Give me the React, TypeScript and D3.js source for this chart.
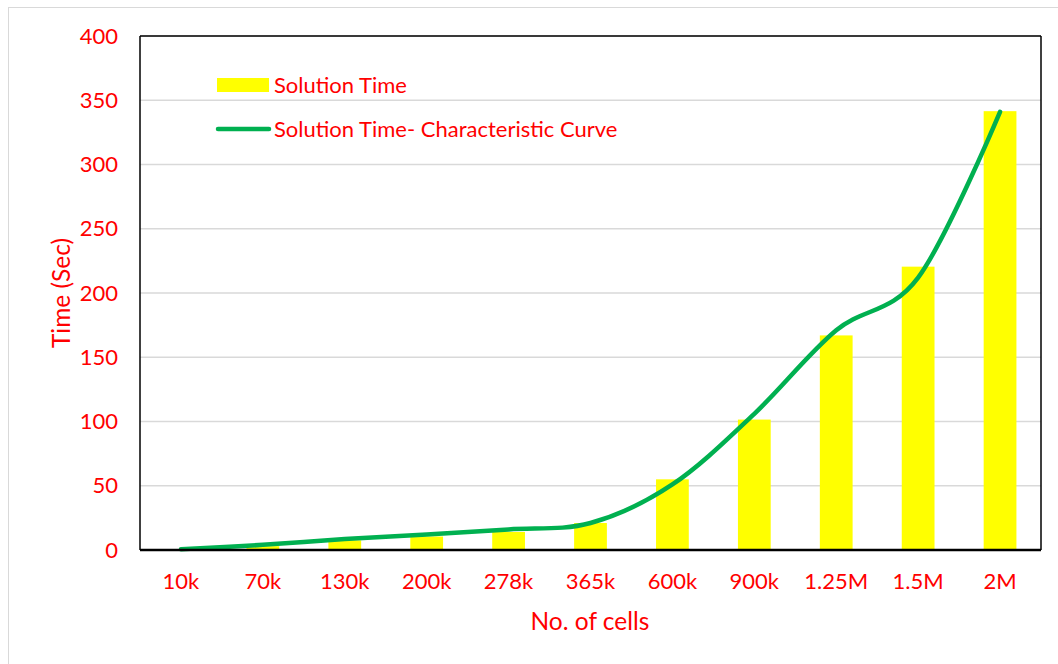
import React from "react";
import * as d3 from "d3";

const categories = ["10k", "70k", "130k", "200k", "278k", "365k", "600k", "900k", "1.25M", "1.5M", "2M"];
const solutionTime = [0.5, 3, 7.5, 10.5, 14, 21, 55, 101.5, 167, 220.5, 341.5];
const curveValues = [0.5, 4, 8.5, 12, 16, 21, 51, 106, 171, 212, 341];
const yTicks = [0, 50, 100, 150, 200, 250, 300, 350, 400];

const W = 1058;
const H = 664;
const M = { left: 140, right: 1041, top: 36, bottom: 550 };
const FONT = "Lato, 'Open Sans', sans-serif";
const RED = "#ff0000";

export default function App() {
  const x = d3.scaleBand<string>().domain(categories).range([M.left, M.right]).paddingInner(0.6).paddingOuter(0.3);
  const xc = d3.scalePoint<string>().domain(categories).range([M.left, M.right]).padding(0.5);
  const y = d3.scaleLinear().domain([0, 400]).range([M.bottom, M.top]);

  const line = d3
    .line<number>()
    .x((_, i) => xc(categories[i]) as number)
    .y((d) => y(d))
    .curve(d3.curveCardinal.tension(0));

  return (
    <svg width={W} height={H} style={{ position: "absolute", left: 0, top: 0, background: "#fff" }} fontFamily={FONT}>
      <rect x={8.5} y={7.5} width={1052} height={660} fill="#fff" stroke="#d9d9d9" strokeWidth={1} />
      {yTicks.filter((t) => t > 0).map((t) => (
        <line key={t} x1={M.left} x2={M.right} y1={y(t)} y2={y(t)} stroke="#d9d9d9" strokeWidth={1.5} />
      ))}
      {solutionTime.map((v, i) => (
        <rect key={i} x={x(categories[i])} y={y(v)} width={x.bandwidth()} height={y(0) - y(v)} fill="#ffff00" />
      ))}
      <path d={line(curveValues) || ""} fill="none" stroke="#00b050" strokeWidth={4.5} strokeLinecap="round" />
      <line x1={M.left} x2={M.left} y1={M.top} y2={M.bottom} stroke="#000" strokeWidth={1.5} />
      <line x1={M.right} x2={M.right} y1={M.top} y2={M.bottom} stroke="#000" strokeWidth={1.5} />
      <line x1={M.left} x2={M.right} y1={M.top} y2={M.top} stroke="#000" strokeWidth={1.5} />
      <line x1={M.left} x2={M.right} y1={M.bottom} y2={M.bottom} stroke="#000" strokeWidth={2.5} />
      {yTicks.map((t) => (
        <text key={t} x={118} y={y(t)} dy="0.35em" textAnchor="end" fill={RED} fontSize={22}>
          {t}
        </text>
      ))}
      {categories.map((c) => (
        <text key={c} x={xc(c)} y={581} dy="0.35em" textAnchor="middle" fill={RED} fontSize={22}>
          {c}
        </text>
      ))}
      <text x={590} y={621} dy="0.35em" textAnchor="middle" fill={RED} fontSize={24.5}>
        No. of cells
      </text>
      <text transform="translate(61,293) rotate(-90)" dy="0.35em" textAnchor="middle" fill={RED} fontSize={24.5}>
        Time (Sec)
      </text>
      <rect x={217} y={78} width={52} height={14} fill="#ffff00" />
      <text x={274} y={85} dy="0.35em" fill={RED} fontSize={22}>
        Solution Time
      </text>
      <line x1={218} x2={269} y1={129} y2={129} stroke="#00b050" strokeWidth={4.5} strokeLinecap="round" />
      <text x={274} y={129} dy="0.35em" fill={RED} fontSize={22}>
        Solution Time- Characteristic Curve
      </text>
    </svg>
  );
}
